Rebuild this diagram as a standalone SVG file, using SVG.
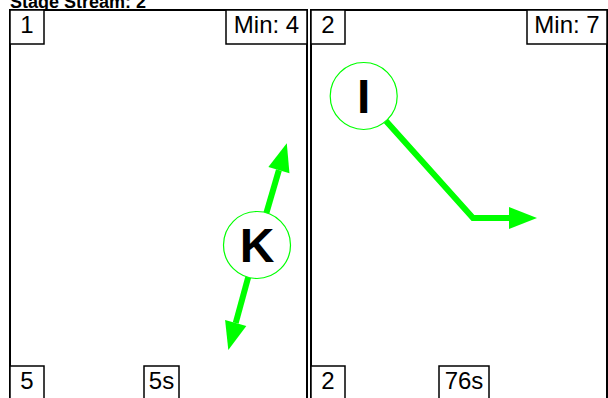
<svg xmlns="http://www.w3.org/2000/svg" width="608" height="398" viewBox="0 0 608 398">
  <style>
    .panel { fill: #ffffff; stroke: #000000; stroke-width: 2; }
    .tag { fill: #ffffff; stroke: #000000; stroke-width: 1.5; }
    .tag-text { font-family: "Liberation Sans", Arial, sans-serif; font-size: 24px; fill: #000000; text-anchor: middle; }
    .title { font-family: "Liberation Sans", Arial, sans-serif; font-size: 18px; font-weight: bold; fill: #000000; }
    .node-circle { fill: #ffffff; stroke: #00ff00; stroke-width: 1.2; }
    .node-text { font-family: "Liberation Sans", Arial, sans-serif; font-size: 48px; font-weight: bold; fill: #000000; text-anchor: middle; }
    .flow { stroke: #00ff00; stroke-width: 6; fill: none; marker-end: url(#head); }
  </style>
  <defs>
    <!-- arrowhead starts where the stroke ends -->
    <marker id="head" markerUnits="userSpaceOnUse" markerWidth="30" markerHeight="24" refX="0" refY="11" orient="auto" overflow="visible">
      <path d="M0,0 L28,11 L0,22 Z" fill="#00ff00"/>
    </marker>
  </defs>

  <rect width="608" height="398" fill="#ffffff"/>
  <text class="title" x="10" y="8">Stage Stream: 2</text>

  <!-- stage panel 1 -->
  <g id="panel-1">
    <rect class="panel" x="10" y="10" width="297" height="400"/>
    <rect class="tag" x="10" y="10" width="34" height="34"/>
    <text class="tag-text" x="27" y="32.5">1</text>
    <rect class="tag" x="226" y="10" width="81" height="34"/>
    <text class="tag-text" x="266.5" y="32.5">Min: 4</text>
    <rect class="tag" x="10" y="366" width="34" height="34"/>
    <text class="tag-text" x="27" y="389">5</text>
    <rect class="tag" x="144" y="366" width="35" height="34"/>
    <text class="tag-text" x="161.5" y="389">5s</text>
  </g>

  <!-- stage panel 2 -->
  <g id="panel-2">
    <rect class="panel" x="311" y="10" width="296" height="400"/>
    <rect class="tag" x="311" y="10" width="34" height="34"/>
    <text class="tag-text" x="328" y="32.5">2</text>
    <rect class="tag" x="527" y="10" width="80" height="34"/>
    <text class="tag-text" x="567" y="32.5">Min: 7</text>
    <rect class="tag" x="311" y="366" width="34" height="34"/>
    <text class="tag-text" x="328" y="389">2</text>
    <rect class="tag" x="439" y="366" width="50" height="34"/>
    <text class="tag-text" x="464" y="389">76s</text>
  </g>

  <!-- connectors -->
  <g id="connectors">
    <path class="flow" d="M266.4,212.8 L278.9,170.2"/>
    <path class="flow" d="M248.2,277.3 L235.7,323"/>
    <path class="flow" d="M386,121 L473,218 L509,218"/>
  </g>

  <g id="node-K">
    <circle class="node-circle" cx="257" cy="245" r="33.5"/>
    <text class="node-text" x="257" y="262">K</text>
  </g>
  <g id="node-I">
    <circle class="node-circle" cx="363.7" cy="96" r="33.5"/>
    <text class="node-text" x="363.7" y="113">I</text>
  </g>
</svg>
